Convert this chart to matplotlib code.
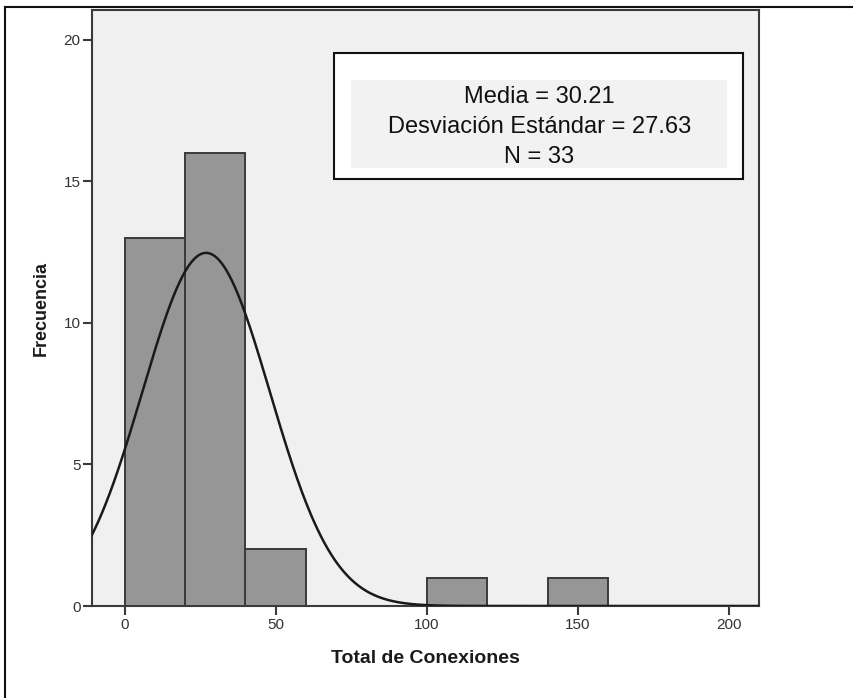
import numpy as np
import matplotlib
matplotlib.use("Agg")
import matplotlib.pyplot as plt
from matplotlib.patches import Rectangle
from matplotlib.lines import Line2D

# Histogram bins and counts
bin_edges = [0, 20, 40, 60, 80, 100, 120, 140, 160]
counts = [13, 16, 2, 0, 0, 1, 0, 1]

# Normal curve as drawn
curve_mean = 27.0
curve_sd = 21.1
n_total = 33
bin_width = 20

stats_text = "Media = 30.21\nDesviación Estándar = 27.63\nN = 33"

sans = ['Liberation Sans', 'DejaVu Sans']

fig = plt.figure(figsize=(8.54, 6.98), dpi=100)
ax = fig.add_axes([92.5 / 854, 1 - 606 / 698, (759 - 92.5) / 854, (606 - 10) / 698])
ax.set_facecolor('#f0f0f0')

lefts = bin_edges[:-1]
ax.bar(lefts, counts, width=bin_width, align='edge', color='#969696',
       edgecolor='#3a3a3a', linewidth=1.4, zorder=2)

xs = np.linspace(-12, 212, 600)
ys = n_total * bin_width / (curve_sd * np.sqrt(2 * np.pi)) * np.exp(-0.5 * ((xs - curve_mean) / curve_sd) ** 2)
ax.plot(xs, ys, color='#1a1a1a', linewidth=1.8, zorder=3)

ax.set_xlim(-10.6, 210)
ax.set_ylim(0, 21.06)
ax.set_xticks([0, 50, 100, 150, 200])
ax.set_yticks([0, 5, 10, 15, 20])
for s in ax.spines.values():
    s.set_color('#3a3a3a')
    s.set_linewidth(1.5)
ax.tick_params(direction='out', length=6.5, width=1.5, color='#3a3a3a',
               labelcolor='#333333', labelsize=11, pad=2)
for lab in ax.get_xticklabels() + ax.get_yticklabels():
    lab.set_family(sans)

ax.set_xlabel('Total de Conexiones', fontsize=14, fontweight='bold', family=sans,
              color='#1a1a1a', labelpad=13)
ax.set_ylabel('Frecuencia', fontsize=13, fontweight='bold', family=sans,
              color='#1a1a1a', labelpad=10)

# Statistics box
box_l, box_r, box_t, box_b = 334, 743, 53, 179
fig.patches.append(Rectangle((box_l / 854, 1 - box_b / 698), (box_r - box_l) / 854,
                             (box_b - box_t) / 698, transform=fig.transFigure,
                             facecolor='white', edgecolor='#111111', linewidth=1.5, zorder=5))
in_l, in_r, in_t, in_b = 351, 727, 80, 168
fig.patches.append(Rectangle((in_l / 854, 1 - in_b / 698), (in_r - in_l) / 854,
                             (in_b - in_t) / 698, transform=fig.transFigure,
                             facecolor='#f2f2f2', edgecolor='none', zorder=6))
fig.text(539.5 / 854, 1 - 127 / 698, stats_text, ha='center', va='center',
         fontsize=17, family=sans, color='#111111',
         linespacing=1.45, zorder=7)

# Outer frame
fig.lines.append(Line2D([5.5 / 854, 5.5 / 854], [0, 1 - 7 / 698], transform=fig.transFigure,
                        color='#111111', linewidth=1.5))
fig.lines.append(Line2D([5.5 / 854, 1], [1 - 7 / 698, 1 - 7 / 698], transform=fig.transFigure,
                        color='#111111', linewidth=1.5))

fig.savefig('out.png', dpi=100)
